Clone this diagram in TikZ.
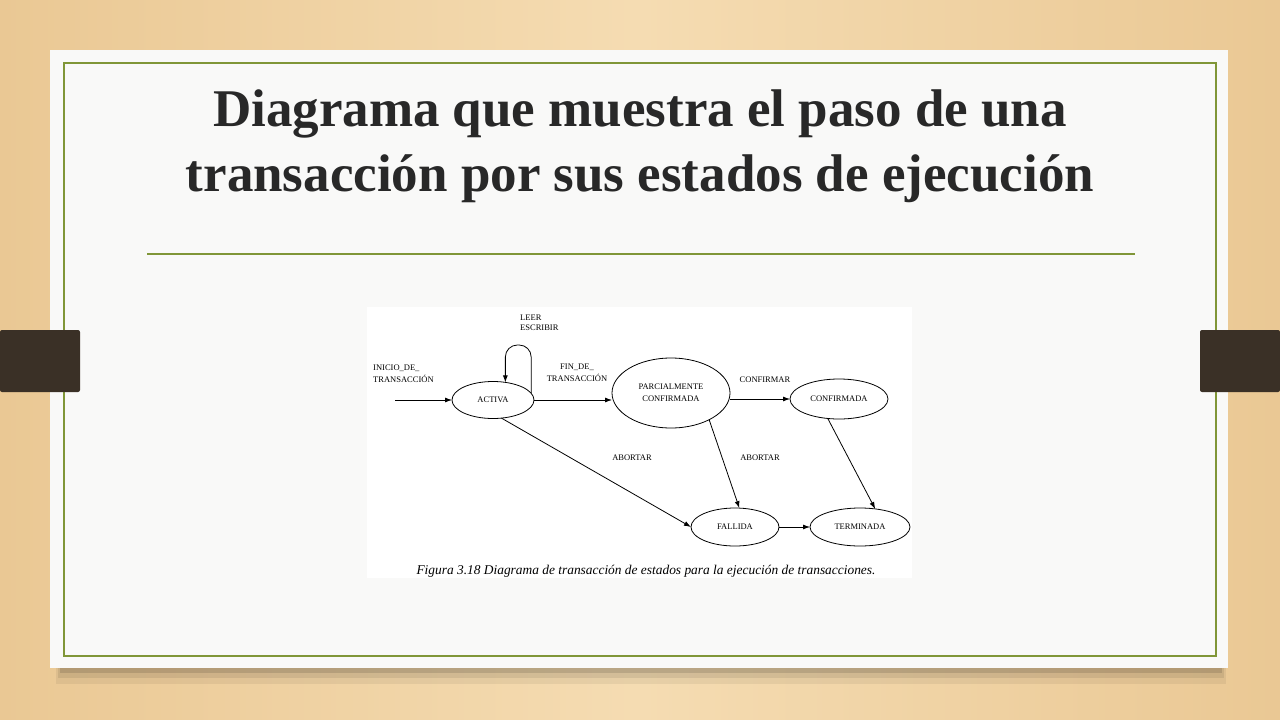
\documentclass[tikz,border=0pt]{standalone}
\usepackage{fontspec}
\setmainfont{Liberation Serif}
\usetikzlibrary{shapes.geometric,arrows.meta}
\definecolor{wood}{RGB}{234,200,148}
\definecolor{woodlight}{RGB}{245,220,178}
\definecolor{card}{RGB}{249,249,248}
\definecolor{olive}{RGB}{128,150,56}
\definecolor{tab}{RGB}{58,48,38}
\definecolor{titlec}{RGB}{40,40,40}
\tikzset{
  st/.style={draw, ellipse, inner sep=0pt, outer sep=0pt, line width=0.8pt, font=\fontsize{8.5}{12}\selectfont, align=center},
  lbl/.style={inner sep=0pt, font=\fontsize{8.5}{12}\selectfont},
  arr/.style={line width=0.8pt, -{Latex[length=7pt,width=5pt]}},
  ttl/.style={anchor=base, font=\fontsize{53}{60}\bfseries\selectfont, text=titlec, inner sep=0pt},
}
\begin{document}
\begin{tikzpicture}[x=1pt,y=-1pt]
\useasboundingbox (0,0) rectangle (1280,720);
% background wood
\shade[left color=wood, right color=wood, middle color=woodlight] (0,0) rectangle (1280,720);
% card shadow
\fill[black,opacity=0.06] (56,660) rectangle (1226,684);
\fill[black,opacity=0.08] (58,664) rectangle (1224,678);
\fill[black,opacity=0.12] (60,666) rectangle (1222,673);
% card
\fill[card] (50,50) rectangle (1228,668);
\draw[olive, line width=1.6pt] (64,63) rectangle (1216,656);
% tabs
\fill[tab, rounded corners=2pt] (0,330) rectangle (80,392);
\fill[tab, rounded corners=2pt] (1200,330) rectangle (1280,392);
% title
\node[ttl] (t1) at (640,126) {Diagrama que muestra el paso de una};
\node[ttl] (t2) at (640,191) {transacción por sus estados de ejecución};
\draw[olive, line width=1.4pt] (147,254) -- (1135,254);
% figure
\fill[white] (367,307) rectangle (912,578);
\node[st, minimum width=82pt, minimum height=37pt] (act) at (493,400) {ACTIVA};
\node[st, minimum width=118pt, minimum height=70pt] (par) at (671,393) {PARCIALMENTE\\CONFIRMADA};
\node[st, minimum width=98pt, minimum height=40pt] (conf) at (839,399) {CONFIRMADA};
\node[st, minimum width=88pt, minimum height=38pt] (fall) at (735,527) {FALLIDA};
\node[st, minimum width=100pt, minimum height=38pt] (term) at (860,527) {TERMINADA};
\coordinate (in) at (395,400);
\coordinate (looptop) at (0,345);
\draw[arr] (in) -- (act.west);
\draw[arr, rounded corners=12pt] (act.10) -- (act.10 |- looptop) -| (act.55);
\draw[arr] (act.east) -- (act.east -| par.west);
\draw[arr] (par.east |- conf.west) -- (conf.west);
\draw[arr] (act.-65) -- (fall.west);
\draw[arr] (par.-35) -- (fall.77);
\draw[arr] (conf.-120) -- (term.50);
\draw[arr] (fall.east) -- (term.west);
% labels
\node[lbl, anchor=west, align=left] (l1) at (373,374) {INICIO\_DE\_\\TRANSACCIÓN};
\node[lbl, align=center] (l2) at (577,373) {FIN\_DE\_\\TRANSACCIÓN};
\node[lbl, anchor=west, align=left, font=\fontsize{8.5}{10.5}\selectfont] (l3) at (520,323) {LEER\\ESCRIBIR};
\node[lbl] (l4) at (765,380) {CONFIRMAR};
\node[lbl] (l5) at (632,458) {ABORTAR};
\node[lbl] (l6) at (760,458) {ABORTAR};
\node[inner sep=0pt, font=\fontsize{13.4}{15}\itshape\selectfont] (cap) at (646,571) {Figura 3.18 Diagrama de transacción de estados para la ejecución de transacciones.};
\end{tikzpicture}
\end{document}
